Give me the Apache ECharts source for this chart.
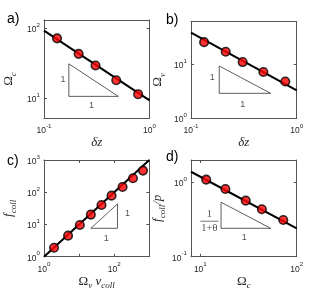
<!DOCTYPE html>
<html><head><meta charset="utf-8">
<script src="https://cdn.jsdelivr.net/npm/echarts@6/dist/echarts.min.js"></script>
<style>html,body{margin:0;padding:0;background:#fff}#c{width:329px;height:292px}</style>
</head><body><div id="c"></div>
<script>
// ---------- Panel a : Omega_c vs delta z ----------
const aDeltaZ = [0.133, 0.213, 0.308, 0.484, 0.78];
const aOmegaC = [72.6, 43.5, 29.6, 18.2, 11.5];
const aFitX = [0.1, 1];
const aFitY = [93.6, 9.4];
const aTriX = [0.172, 0.172, 0.506, 0.172];
const aTriY = [31.3, 10.7, 10.7, 31.3];
const aTriLabelX = [0.151, 0.282];
const aTriLabelY = [18.5, 7.9];
const aXRange = [0.1, 1];
const aYRange = [5.24, 133];
const aXTicks = [0.1, 1];
const aYTicks = [10, 100];

// ---------- Panel b : Omega_v vs delta z ----------
const bDeltaZ = [0.133, 0.213, 0.308, 0.484, 0.78];
const bOmegaV = [25.7, 17.1, 11.0, 7.2, 4.8];
const bFitX = [0.1, 1];
const bFitY = [38.4, 3.3];
const bTriX = [0.185, 0.185, 0.567, 0.185];
const bTriY = [9.3, 2.9, 2.9, 9.3];
const bTriLabelX = [0.159, 0.308];
const bTriLabelY = [5.8, 1.81];
const bXRange = [0.1, 1];
const bYRange = [1, 62];
const bXTicks = [0.1, 1];
const bYTicks = [1, 10];

// ---------- Panel c : f_coll vs Omega_v v_coll ----------
const cOmegaVvColl = [1.93, 4.85, 10.5, 21.6, 43.4, 84, 173, 342, 661];
const cFColl = [1.9, 4.5, 9.6, 20.2, 40.3, 78.4, 146, 272, 469];
const cFitX = [1, 1000];
const cFitY = [1, 1000];
const cTriX = [21.6, 124, 124, 21.6];
const cTriY = [7.6, 7.6, 43.3, 7.6];
const cTriLabelX = [240, 59];
const cTriLabelY = [21.2, 3.73];
const cXRange = [1, 1000];
const cYRange = [1, 1000];
const cXTicks = [1, 10, 100, 1000];
const cXLabels = [1, 100];
const cYTicks = [1, 10, 100, 1000];

// ---------- Panel d : f_coll/p vs Omega_c ----------
const dOmegaC = [11.5, 18.2, 29.6, 43.5, 72.6];
const dFCollP = [1.09, 0.815, 0.568, 0.435, 0.312];
const dFitX = [8, 100];
const dFitY = [1.39, 0.241];
const dTriX = [16.4, 16.4, 53.7, 16.4];
const dTriY = [0.54, 0.241, 0.241, 0.54];
const dTriLabelX = [12.4, 28.6];
const dTriLabelY = [0.296, 0.182];
const dXRange = [8, 100];
const dYRange = [0.1, 2];
const dXTicks = [10, 100];
const dYTicks = [0.1, 1];

const panelLetters = ['a)', 'b)', 'c)', 'd)'];

// ---------- styling ----------
const AX = '#555';
const TXT = '#262626';
const SERIF = '"Liberation Serif", "DejaVu Serif", serif';
const SANS = '"Liberation Sans", Arial, sans-serif';

const tickRich = {
  b: {fontFamily: SANS, fontSize: 8.5, color: TXT, verticalAlign: 'bottom', padding: [3, 0, 0, 0]},
  s: {fontFamily: SANS, fontSize: 6.2, color: TXT, verticalAlign: 'top'}
};
function expLabel(v) {
  const e = Math.round(Math.log10(v));
  return '{b|10}{s|' + e + '}';
}
const nameRich = {
  o: {fontFamily: SERIF, fontSize: 13, color: TXT, verticalAlign: 'top', padding: [0, 0, 3, 0]},
  i: {fontFamily: SERIF, fontSize: 13, fontStyle: 'italic', color: TXT, verticalAlign: 'top', padding: [0, 0, 3, 0]},
  sub: {fontFamily: SERIF, fontSize: 9, fontStyle: 'italic', color: TXT, verticalAlign: 'bottom'}
};

const grids = [
  {left: 44, top: 20, width: 105.5, height: 98},
  {left: 191, top: 21.5, width: 105.7, height: 96.8},
  {left: 44, top: 160, width: 105.3, height: 96.7},
  {left: 191, top: 160, width: 105.7, height: 96.7}
];

function xAxes(gi, range, ticks, labels, name, nameGap, namePad) {
  const base = {
    type: 'log', logBase: 10, gridIndex: gi, min: range[0], max: range[1],
    axisLine: {show: true, lineStyle: {color: AX, width: 1}},
    splitLine: {show: false}
  };
  return [
    Object.assign({}, base, {
      position: 'bottom',
      axisTick: {show: true, inside: true, length: 3, lineStyle: {color: AX}, customValues: ticks},
      axisLabel: {show: true, margin: 5, customValues: labels || ticks, formatter: expLabel, rich: tickRich},
      name: name, nameLocation: 'middle', nameGap: nameGap,
      nameTextStyle: {rich: nameRich, padding: namePad || 0}
    }),
    Object.assign({}, base, {
      position: 'top',
      axisTick: {show: true, inside: true, length: 3, lineStyle: {color: AX}, customValues: ticks},
      axisLabel: {show: false}
    })
  ];
}
function yAxes(gi, range, ticks, name, nameGap, namePad) {
  const base = {
    type: 'log', logBase: 10, gridIndex: gi, min: range[0], max: range[1],
    axisLine: {show: true, lineStyle: {color: AX, width: 1}},
    splitLine: {show: false}
  };
  return [
    Object.assign({}, base, {
      position: 'left',
      axisTick: {show: true, inside: true, length: 3, lineStyle: {color: AX}, customValues: ticks},
      axisLabel: {show: true, margin: 4, customValues: ticks, formatter: expLabel, rich: tickRich},
      name: name, nameLocation: 'middle', nameGap: nameGap, nameRotate: 90,
      nameTextStyle: {rich: nameRich, padding: namePad || 0}
    }),
    Object.assign({}, base, {
      position: 'right',
      axisTick: {show: true, inside: true, length: 3, lineStyle: {color: AX}, customValues: ticks},
      axisLabel: {show: false}
    })
  ];
}

const xAxis = [].concat(
  xAxes(0, aXRange, aXTicks, null, '{i|δz}', 14),
  xAxes(1, bXRange, bXTicks, null, '{i|δz}', 14),
  xAxes(2, cXRange, cXTicks, cXLabels, '{o|Ω}{sub|v}{i| v}{sub|coll}', 15),
  xAxes(3, dXRange, dXTicks, null, '{o|Ω}{sub|c}', 15)
);
const yAxis = [].concat(
  yAxes(0, aYRange, aYTicks, '{o|Ω}{sub|c}', 26, [0, 20, 0, 0]),
  yAxes(1, bYRange, bYTicks, '{o|Ω}{sub|v}', 24, [0, 20, 0, 0]),
  yAxes(2, cYRange, cYTicks, '{i|f}{sub|coll}', 26),
  yAxes(3, dYRange, dYTicks, '{i|f}{sub|coll}{i|/p}', 24)
);

function zip(xs, ys) { return xs.map((x, i) => [x, ys[i]]); }

const series = [];
function addPanel(k, fitX, fitY, px, py, triX, triY, labX, labY, labTexts) {
  series.push({
    type: 'line', xAxisIndex: 2 * k, yAxisIndex: 2 * k, data: zip(fitX, fitY),
    symbol: 'none', lineStyle: {color: '#000', width: 2}, silent: true, animation: false, clip: true
  });
  series.push({
    type: 'line', xAxisIndex: 2 * k, yAxisIndex: 2 * k, data: zip(triX, triY),
    symbol: 'none', lineStyle: {color: '#333', width: 0.8}, silent: true, animation: false
  });
  series.push({
    type: 'scatter', xAxisIndex: 2 * k, yAxisIndex: 2 * k, data: zip(px, py),
    symbol: 'circle', symbolSize: 8.5,
    itemStyle: {color: '#ff0000', borderColor: '#000', borderWidth: 1.6}, animation: false, z: 5
  });
  series.push({
    type: 'scatter', xAxisIndex: 2 * k, yAxisIndex: 2 * k,
    data: zip(labX, labY).map((p, i) => ({value: p, label: {formatter: labTexts[i]}})),
    symbolSize: 1, itemStyle: {color: 'rgba(0,0,0,0)'}, animation: false,
    label: {show: true, position: 'inside', fontFamily: SANS, fontSize: 9, color: TXT,
      rich: {
        n: {fontFamily: SERIF, fontSize: 10.5, color: TXT, align: 'center', lineHeight: 10},
        bar: {width: 18, height: 0.8, backgroundColor: TXT, lineHeight: 3},
        d: {fontFamily: SERIF, fontSize: 10.5, color: TXT, align: 'center', lineHeight: 11}
      }}
  });
}
addPanel(0, aFitX, aFitY, aDeltaZ, aOmegaC, aTriX, aTriY, aTriLabelX, aTriLabelY, ['1', '1']);
addPanel(1, bFitX, bFitY, bDeltaZ, bOmegaV, bTriX, bTriY, bTriLabelX, bTriLabelY, ['1', '1']);
addPanel(2, cFitX, cFitY, cOmegaVvColl, cFColl, cTriX, cTriY, cTriLabelX, cTriLabelY, ['1', '1']);
addPanel(3, dFitX, dFitY, dOmegaC, dFCollP, dTriX, dTriY, dTriLabelX, dTriLabelY,
  ['{n|1}\n{bar|}\n{d|1+θ}', '1']);

const letterPos = [[7, 20], [166, 21], [7, 162], [166, 158]];
const graphic = panelLetters.map((t, i) => ({
  type: 'text', left: letterPos[i][0], top: letterPos[i][1] - 8,
  style: {text: t, fontFamily: SANS, fontSize: 14, fill: '#000'}
}));

const chart = echarts.init(document.getElementById('c'), null, {renderer: 'canvas'});
chart.setOption({
  animation: false,
  grid: grids,
  xAxis: xAxis,
  yAxis: yAxis,
  series: series,
  graphic: graphic
});
</script></body></html>
